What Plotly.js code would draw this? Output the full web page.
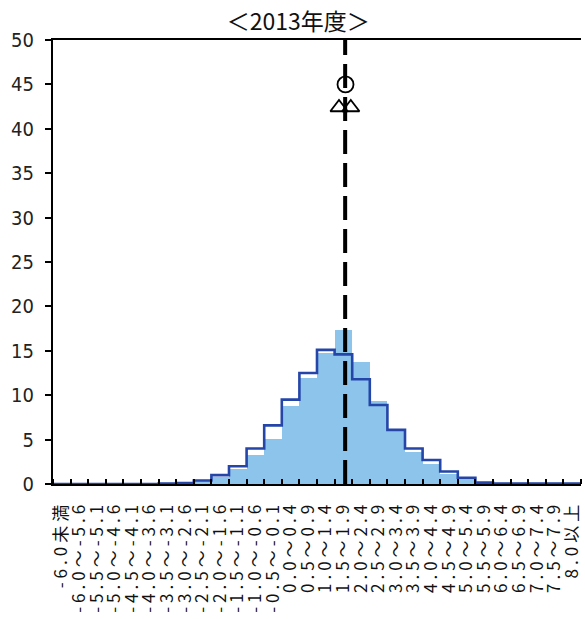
<!DOCTYPE html>
<html>
<head>
<meta charset="utf-8">
<script src="https://cdn.plot.ly/plotly-3.0.1.min.js"></script>
<style>
  html, body { margin: 0; padding: 0; background: #fff; overflow: hidden; }
  #chart { width: 585px; height: 619px; }
  .xtick text { letter-spacing: 4px; }
</style>
</head>
<body>
<div id="chart"></div>
<script>
const categories = ["-6.0未満","-6.0～-5.6","-5.5～-5.1","-5.0～-4.6","-4.5～-4.1","-4.0～-3.6","-3.5～-3.1","-3.0～-2.6","-2.5～-2.1","-2.0～-1.6","-1.5～-1.1","-1.0～-0.6","-0.5～-0.1","0.0～0.4","0.5～0.9","1.0～1.4","1.5～1.9","2.0～2.4","2.5～2.9","3.0～3.4","3.5～3.9","4.0～4.4","4.5～4.9","5.0～5.4","5.5～5.9","6.0～6.4","6.5～6.9","7.0～7.4","7.5～7.9","8.0以上"];
const barValues = [0,0,0,0,0,0,0.05,0.1,0.3,0.8,1.7,3.3,5.1,8.8,11.9,14.8,17.3,13.7,9.3,6.2,3.6,2.3,1.1,0.6,0.2,0.05,0,0,0,0];
const stepValues = [0,0,0,0,0,0,0.05,0.1,0.4,1.0,2.0,4.0,6.6,9.5,12.5,15.1,14.6,11.8,8.9,6.1,4.0,2.7,1.4,0.7,0.15,0.05,0.05,0.05,0.05,0.05];
const yTicks = [0,5,10,15,20,25,30,35,40,45,50];
const titleText = "＜2013年度＞";
// summary markers (positions in category-index units)
const meanLineX = 16.1;
const circleX = [16.12];
const circleY = [45];
const triangleX = [15.75, 16.42];
const triangleY = [42.4, 42.4];

const idx = categories.map((c, i) => i);
const stepX = categories.map((c, i) => i - 0.5).concat([categories.length - 0.5]);
const stepY = stepValues.concat([stepValues[stepValues.length - 1]]);

const traces = [
  { type: 'bar', x: idx, y: barValues, width: 1, marker: { color: '#8dc4eb', line: { width: 0 } }, hoverinfo: 'skip' },
  { type: 'scatter', mode: 'lines', x: stepX, y: stepY, line: { shape: 'hv', color: '#2546a8', width: 2.6 }, hoverinfo: 'skip' },
  { type: 'scatter', mode: 'lines', x: [meanLineX, meanLineX], y: [0, 50], line: { color: '#000', width: 4, dash: '24px,9px' }, hoverinfo: 'skip' },
  { type: 'scatter', mode: 'markers', x: circleX, y: circleY, marker: { symbol: 'circle-open', size: 16, color: '#000', line: { width: 1.8, color: '#000' } }, hoverinfo: 'skip' },
  { type: 'scatter', mode: 'markers', x: triangleX, y: triangleY, marker: { symbol: 'triangle-up-open', size: 15, color: '#000', line: { width: 1.8, color: '#000' } }, hoverinfo: 'skip' }
];

const layout = {
  width: 585, height: 619,
  margin: { l: 53, r: 4, t: 40, b: 135 },
  paper_bgcolor: '#fff', plot_bgcolor: '#fff',
  showlegend: false,
  bargap: 0,
  title: { text: titleText, font: { family: 'Noto Sans CJK JP', size: 23, color: '#111' }, xref: 'container', yref: 'container', x: 0.51, y: 0.965, xanchor: 'center', yanchor: 'middle' },
  xaxis: {
    range: [-0.5, 29.5], tickmode: 'array', tickvals: idx, ticktext: categories, tickangle: -90,
    ticks: '', showgrid: false, zeroline: false,
    showline: true, mirror: true, linecolor: '#000', linewidth: 2,
    tickfont: { family: 'Noto Sans CJK JP', size: 17, color: '#111' },
    ticklabeloverflow: 'allow', ticklabelstandoff: 8,
    minor: { ticks: 'inside', tick0: -0.5, dtick: 1, ticklen: 5, tickwidth: 2, tickcolor: '#000', showgrid: false },
    automargin: false, fixedrange: true
  },
  yaxis: {
    range: [0, 50], tickmode: 'array', tickvals: yTicks, ticktext: yTicks.map(String),
    ticks: 'outside', ticklen: 6, tickwidth: 2, tickcolor: '#000',
    showgrid: false, zeroline: false, showline: true, linecolor: '#000', linewidth: 2,
    tickfont: { family: 'Liberation Sans Narrow, DejaVu Sans Condensed, Arial Narrow, sans-serif', size: 20, color: '#222' },
    ticklabelstandoff: 7,
    automargin: false, fixedrange: true
  }
};

Plotly.newPlot('chart', traces, layout, { staticPlot: true, displayModeBar: false });
</script>
</body>
</html>
